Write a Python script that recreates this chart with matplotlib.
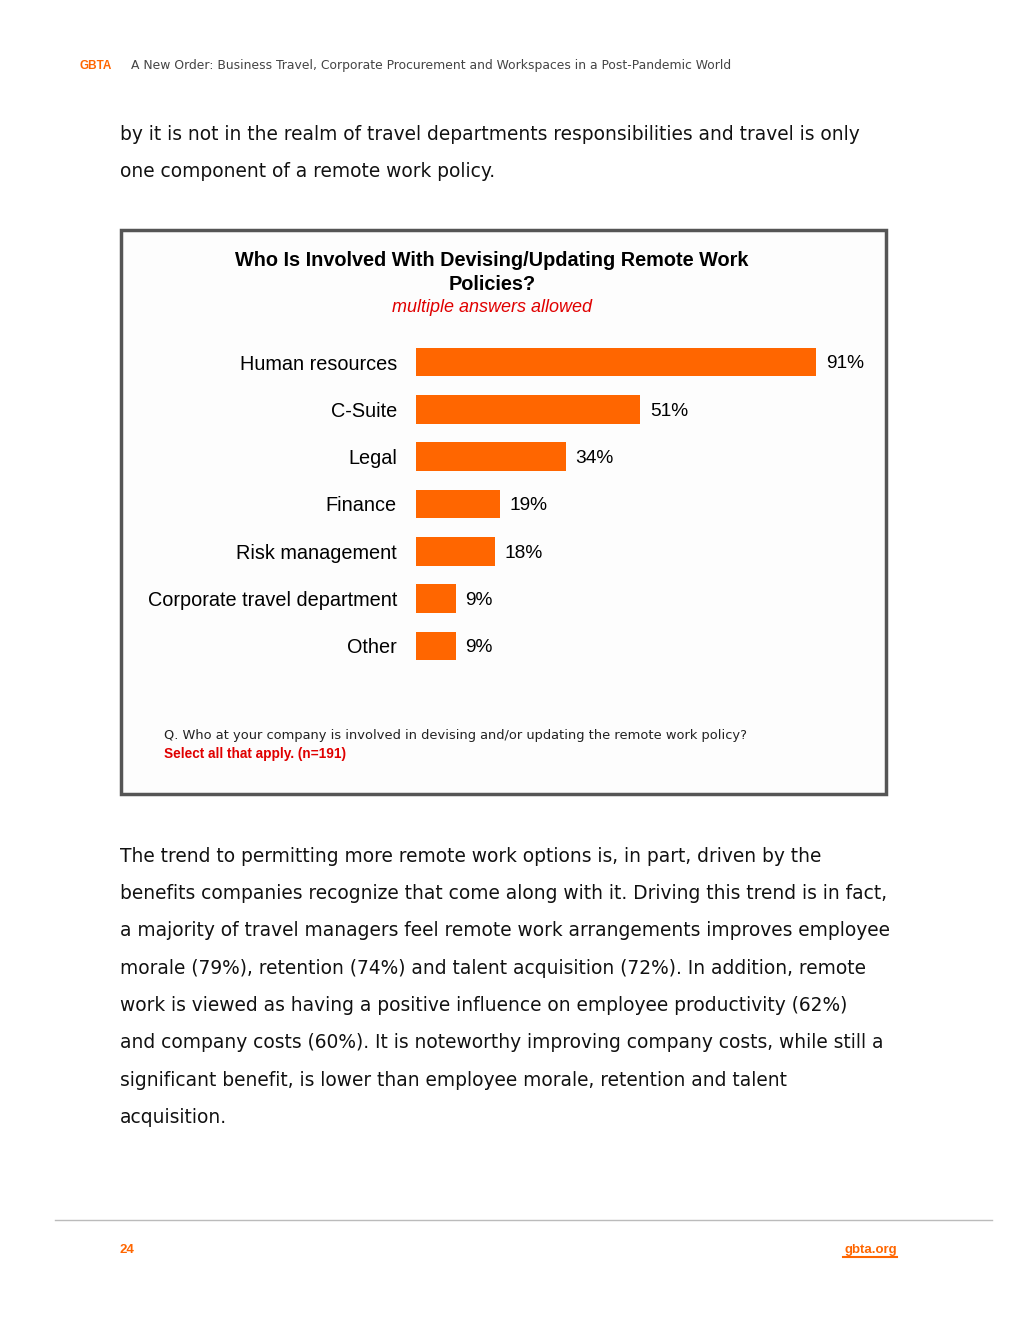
import matplotlib.pyplot as plt
from matplotlib.patches import Rectangle
from matplotlib.lines import Line2D

# Dados do gráfico
categorias = ["Human resources", "C-Suite", "Legal", "Finance",
              "Risk management", "Corporate travel department", "Other"]
valores = [91, 51, 34, 19, 18, 9, 9]

laranja = "#ff6600"
vermelho = "#e00000"
W, H = 1020, 1320

fig = plt.figure(figsize=(10.2, 13.2), dpi=100)
fig.patch.set_facecolor("white")

# eixo de fundo em pixels para os textos da página
pg = fig.add_axes([0, 0, 1, 1])
pg.set_xlim(0, W)
pg.set_ylim(H, 0)
pg.axis("off")

narrow = ["Liberation Sans Narrow", "Liberation Sans", "DejaVu Sans"]
sans = ["Liberation Sans", "DejaVu Sans"]
largo = ["DejaVu Sans"]

# cabeçalho
pg.text(80, 66, "GBTA", color=laranja, fontsize=8.5, fontweight="bold",
        family=sans, va="center")
pg.text(131, 66, "A New Order: Business Travel, Corporate Procurement and Workspaces in a Post-Pandemic World",
        color="#444444", fontsize=8.9, family=largo, va="center")

# texto de corpo
corpo1 = ["by it is not in the realm of travel departments responsibilities and travel is only",
          "one component of a remote work policy."]
for i, linha in enumerate(corpo1):
    pg.text(120, 134 + i * 37.5, linha, fontsize=13.45, family=largo, va="center", color="#111111")

corpo2 = ["The trend to permitting more remote work options is, in part, driven by the",
          "benefits companies recognize that come along with it. Driving this trend is in fact,",
          "a majority of travel managers feel remote work arrangements improves employee",
          "morale (79%), retention (74%) and talent acquisition (72%). In addition, remote",
          "work is viewed as having a positive influence on employee productivity (62%)",
          "and company costs (60%). It is noteworthy improving company costs, while still a",
          "significant benefit, is lower than employee morale, retention and talent",
          "acquisition."]
for i, linha in enumerate(corpo2):
    pg.text(120, 856 + i * 37.4, linha, fontsize=13.45, family=largo, va="center", color="#111111")

# moldura do gráfico
pg.add_patch(Rectangle((121, 230), 765, 564, facecolor="#fdfdfd",
                       edgecolor="#555555", linewidth=2.5))

pg.text(492, 261, "Who Is Involved With Devising/Updating Remote Work", fontsize=14.3,
        fontweight="bold", family=narrow, ha="center", va="center")
pg.text(492, 284, "Policies?", fontsize=14.3, fontweight="bold", family=narrow,
        ha="center", va="center")
pg.text(492, 307, "multiple answers allowed", fontsize=13, style="italic",
        family=narrow, color=vermelho, ha="center", va="center")

pg.text(164, 736, "Q. Who at your company is involved in devising and/or updating the remote work policy?",
        fontsize=9.35, family=largo, va="center", color="#222222")
pg.text(164, 754, "Select all that apply. (n=191)", fontsize=9.8, fontweight="bold",
        family=sans, va="center", color=vermelho)

# rodapé
pg.add_line(Line2D([55, 992], [1220, 1220], color="#bbbbbb", linewidth=1))
pg.text(120, 1250, "24", color=laranja, fontsize=9.5, fontweight="bold", family=narrow, va="center")
pg.text(897, 1250, "gbta.org", color=laranja, fontsize=9.5, fontweight="bold", family=narrow,
        va="center", ha="right")
pg.add_line(Line2D([843, 897], [1257, 1257], color=laranja, linewidth=1.5))

# eixo das barras (4.4 px por ponto percentual)
passo = 47.33
topo = 362 - passo / 2
altura = passo * len(categorias)
ax = fig.add_axes([416 / W, 1 - (topo + altura) / H, 440 / W, altura / H])
ax.patch.set_alpha(0)
y = list(range(len(categorias)))
ax.barh(y, valores, height=0.6, color=laranja)
ax.set_xlim(0, 100)
ax.set_ylim(len(categorias) - 0.5, -0.5)
ax.set_yticks(y)
ax.set_yticklabels(categorias, fontsize=14.3, family=narrow)
ax.tick_params(axis="y", length=0, pad=13.7)
ax.set_xticks([])
for s in ax.spines.values():
    s.set_visible(False)
for yi, v in zip(y, valores):
    ax.text(v + 2.2, yi + 0.04, f"{v}%", fontsize=13.8, family=sans, va="center")

fig.savefig("out.png", dpi=100)
